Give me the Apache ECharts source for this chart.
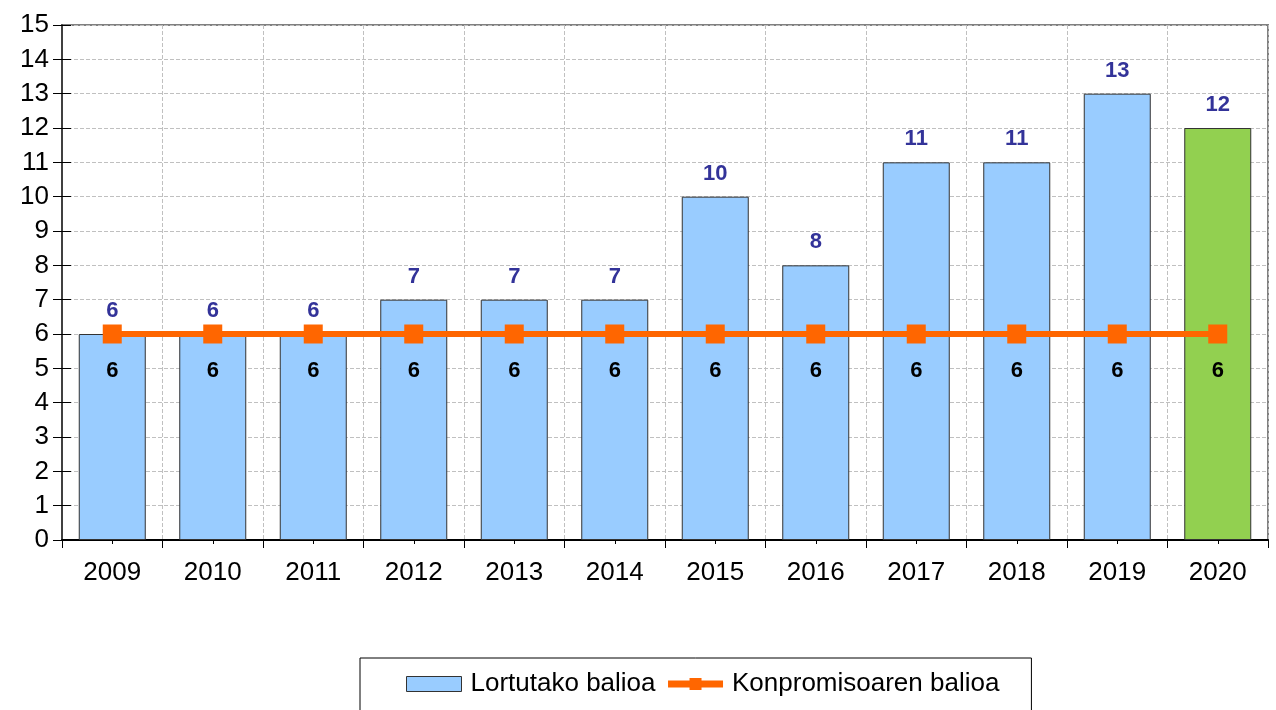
<!DOCTYPE html>
<html>
<head>
<meta charset="utf-8">
<script src="https://cdn.jsdelivr.net/npm/echarts@6/dist/echarts.min.js"></script>
<style>
    html, body { margin: 0; padding: 0; background: #fff; }
    #chart { width: 1276px; height: 710px; }
</style>
</head>
<body>
<div id="chart"></div>
<script>
// datuak
const years = ['2009','2010','2011','2012','2013','2014','2015','2016','2017','2018','2019','2020'];
const lortutakoa = [6, 6, 6, 7, 7, 7, 10, 8, 11, 11, 13, 12];
const konpromisoa = [6, 6, 6, 6, 6, 6, 6, 6, 6, 6, 6, 6];

const font = 'Liberation Sans, Arial, sans-serif';

const myChart = echarts.init(document.getElementById('chart'));
myChart.setOption({
    animation: false,
    textStyle: { fontFamily: font },
    grid: {
        left: 62, right: 8, top: 25, bottom: 170,
        show: true, borderColor: '#808080', borderWidth: 2
    },
    legend: {
        left: 360, top: 658,
        padding: [13, 32, 40, 46],
        borderColor: '#000', borderWidth: 1,
        itemWidth: 55, itemHeight: 15, itemGap: 9,
        textStyle: { fontSize: 26, color: '#000', fontFamily: font, padding: [0, 0, 0, 4] },
        data: [
            { name: 'Lortutako balioa', icon: 'rect', itemStyle: { borderColor: '#333', borderWidth: 1 } },
            { name: 'Konpromisoaren balioa' }
        ],
        lineStyle: { width: 7 }
    },
    xAxis: [
        {
            type: 'category',
            data: years,
            axisLine: { lineStyle: { color: '#000', width: 2 } },
            axisTick: { show: true, length: 8, lineStyle: { color: '#000' } },
            axisLabel: { fontSize: 26, color: '#000', margin: 20 },
            splitLine: { show: true, lineStyle: { color: '#c0c0c0', type: 'dashed' } }
        },
        {
            // tick txikiak kategorien erdian
            type: 'category',
            data: years,
            position: 'bottom',
            axisLine: { show: false },
            axisTick: { show: true, alignWithLabel: true, length: 4, lineStyle: { color: '#000' } },
            axisLabel: { show: false },
            splitLine: { show: false }
        }
    ],
    yAxis: [
        {
            type: 'value',
            min: 0, max: 15, interval: 1,
            axisLine: { show: true, lineStyle: { color: '#404040', width: 2 } },
            axisTick: { show: true, length: 9, lineStyle: { color: '#000' } },
            axisLabel: { fontSize: 26, color: '#000', margin: 13 },
            splitLine: { show: true, lineStyle: { color: '#c0c0c0', type: 'dashed' } }
        },
        {
            type: 'value',
            position: 'left',
            min: 0, max: 15, interval: 1,
            axisLine: { show: false },
            axisTick: { show: true, inside: true, length: 9, lineStyle: { color: '#000' } },
            axisLabel: { show: false },
            splitLine: { show: false }
        }
    ],
    series: [
        {
            name: 'Lortutako balioa',
            type: 'bar',
            barWidth: 67,
            itemStyle: { color: '#99CCFF', borderColor: '#333', borderWidth: 1 },
            label: {
                show: true, position: 'top', distance: 12,
                fontSize: 22, fontWeight: 'bold', color: '#333399'
            },
            data: lortutakoa.map((v, i) => i === years.length - 1
                ? { value: v, itemStyle: { color: '#92D050' } }
                : v)
        },
        {
            name: 'Konpromisoaren balioa',
            type: 'line',
            symbol: 'rect',
            symbolSize: 19,
            itemStyle: { color: '#FF6600' },
            lineStyle: { color: '#FF6600', width: 6 },
            label: {
                show: true, position: 'bottom', distance: 16,
                fontSize: 22, fontWeight: 'bold', color: '#000'
            },
            data: konpromisoa
        }
    ]
});
</script>
</body>
</html>
